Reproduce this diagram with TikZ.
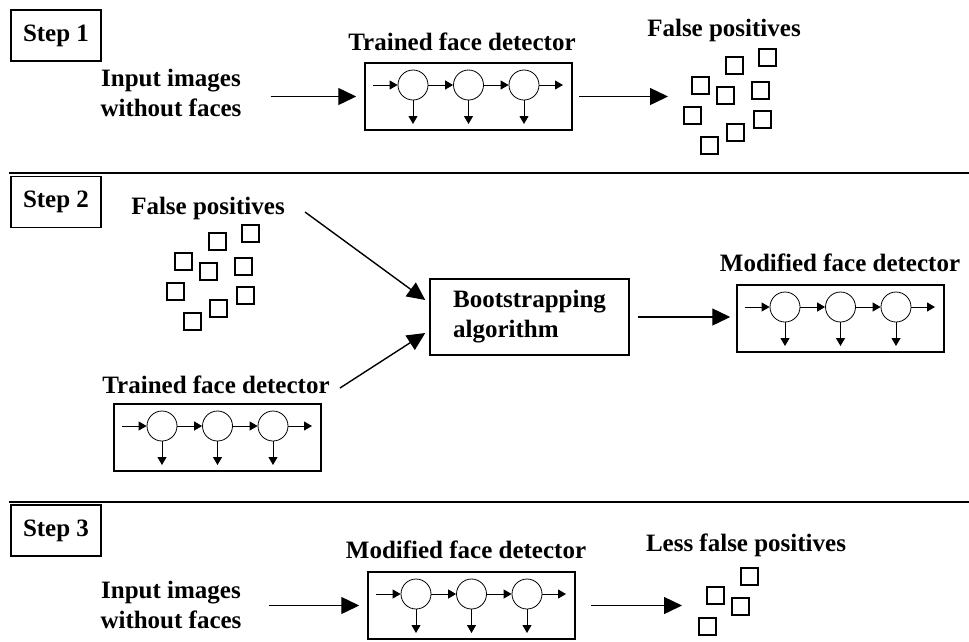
\documentclass[tikz,border=0pt]{standalone}
\usepackage{fontspec}
\setmainfont{Liberation Serif}
\usetikzlibrary{arrows.meta}

% one detector: name, left, top
\newcommand{\detector}[3]{%
  \node[detbox] (#1) at (#2+103.5, #3+33.5) {};
  \node[cell] (#1c1) at (#2+48, #3+22) {};
  \node[cell] (#1c2) at (#2+103.5, #3+22) {};
  \node[cell] (#1c3) at (#2+159, #3+22) {};
  \coordinate (#1in) at (#2+8, #3+22);
  \coordinate (#1out) at (#2+198, #3+22);
  \coordinate (#1d1) at (#2+48, #3+61);
  \coordinate (#1d2) at (#2+103.5, #3+61);
  \coordinate (#1d3) at (#2+159, #3+61);
  \draw[flow] (#1in) -- (#1c1);
  \draw[flow] (#1c1) -- (#1c2);
  \draw[flow] (#1c2) -- (#1c3);
  \draw[flow] (#1c3) -- (#1out);
  \draw[flow] (#1c1) -- (#1d1);
  \draw[flow] (#1c2) -- (#1d2);
  \draw[flow] (#1c3) -- (#1d3);
}

\begin{document}
\begin{tikzpicture}[x=1pt, y=-1pt,
    txt/.style={font=\fontsize{25}{30}\selectfont\bfseries, align=center, inner sep=0pt},
    stepbox/.style={txt, draw, line width=1.5pt, minimum width=90pt, minimum height=51pt},
    detbox/.style={draw, line width=1.5pt, minimum width=207pt, minimum height=67pt, inner sep=0pt},
    cell/.style={circle, draw, line width=0.8pt, minimum size=30pt, inner sep=0pt},
    flow/.style={-{Triangle[length=8pt,width=9pt]}, line width=1pt},
    bigarrow/.style={-{Triangle[length=18pt,width=17pt]}, line width=1.4pt},
    fpsq/.style={draw, line width=1.8pt},
    rule/.style={line width=1.6pt}]
  \useasboundingbox (0,0) rectangle (969,641);

  % step 1
  \node[stepbox] (step1) at (56,35.5) {Step 1};
  \node[txt] (in1) at (171,93) {Input images\\without faces};
  \detector{det1}{365}{63}
  \node[txt] (tfd1) at (462,42) {Trained face detector};
  \node[txt] (fp1) at (724,30) {False positives};
  \coordinate (fp1pt) at (668,96.5);
  \draw[bigarrow, shorten <=29pt, shorten >=8pt] (in1.east |- det1.west) -- (det1.west);
  \draw[bigarrow, shorten <=6pt] (det1.east) -- (fp1pt);
  \foreach \x/\y in {726/57, 759/49, 692/77, 717/87, 752/82, 684/107, 754/111, 727/124, 701/137}
    \draw[fpsq] (\x,\y) rectangle ++(17,17);

  \draw[rule] (9,173) -- (969,173);

  % step 2
  \node[stepbox] (step2) at (56,202) {Step 2};
  \node[txt] (fp2) at (208,208) {False positives};
  \foreach \x/\y in {726/57, 759/49, 692/77, 717/87, 752/82, 684/107, 754/111, 727/124, 701/137}
    \draw[fpsq] (\x-517,\y+176) rectangle ++(17,17);
  \node[txt, draw, line width=1.5pt, align=left, minimum width=199pt, minimum height=76pt] (boot) at (529.5,317) {Bootstrapping\\algorithm};
  \node[txt] (tfd2) at (216,385) {Trained face detector};
  \detector{det2}{114}{404}
  \node[txt] (mfd2) at (840,263) {Modified face detector};
  \detector{det2m}{737}{285}
  \coordinate (fptail) at (305,212);
  \coordinate (tfdtail) at (340,388);
  \draw[bigarrow] (fptail) -- ([xshift=-4pt,yshift=17pt]boot.west);
  \draw[bigarrow] (tfdtail) -- ([xshift=-4pt,yshift=-16pt]boot.west);
  \draw[bigarrow, shorten <=8pt, shorten >=6pt] (boot.east) -- (boot.east -| det2m.west);

  \draw[rule] (9,502) -- (969,502);

  % step 3
  \node[stepbox] (step3) at (56,530.5) {Step 3};
  \node[txt] (in3) at (171,605) {Input images\\without faces};
  \detector{det3}{368}{572}
  \node[txt] (mfd3) at (466,550) {Modified face detector};
  \node[txt] (lfp) at (746,545) {Less false positives};
  \coordinate (lfppt) at (682,605.5);
  \draw[bigarrow, shorten <=27pt, shorten >=8pt] (in3.east |- det3.west) -- (det3.west);
  \draw[bigarrow, shorten <=15pt] (det3.east) -- (lfppt);
  \foreach \x/\y in {741/568, 707/587, 732/598, 699/618}
    \draw[fpsq] (\x,\y) rectangle ++(17,17);
\end{tikzpicture}
\end{document}
